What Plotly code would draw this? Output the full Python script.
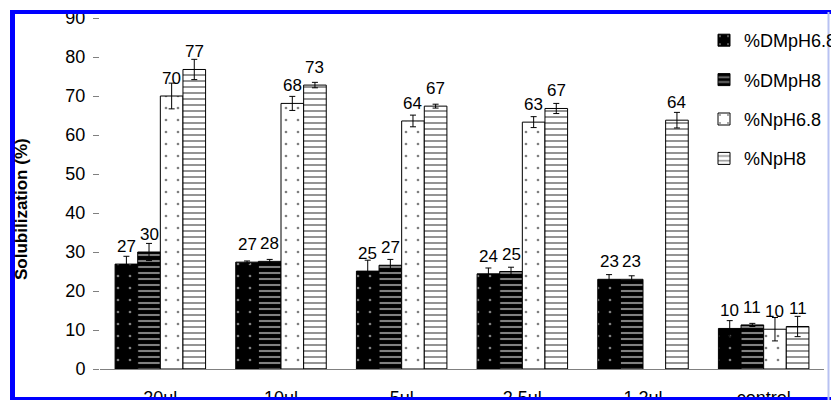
import plotly.graph_objects as go

# Dilution groups on the x axis
categories = ["20ul", "10ul", "5ul", "2.5ul", "1.2ul", "control"]

# Solubilization (%) per series
dm_ph68 = [26.9, 27.4, 25.1, 24.4, 23.0, 10.4]
dm_ph8 = [30.0, 27.6, 26.6, 25.0, 23.0, 11.3]
n_ph68 = [70.0, 68.1, 63.6, 63.3, None, 10.2]
n_ph8 = [76.8, 72.8, 67.4, 66.8, 63.8, 10.9]

# Symmetric error (+/-)
dm_ph68_err = [2.0, 0.3, 2.8, 1.5, 1.2, 2.0]
dm_ph8_err = [2.2, 0.5, 1.5, 1.1, 0.9, 0.4]
n_ph68_err = [3.3, 1.8, 1.5, 1.4, 0.0, 3.0]
n_ph8_err = [2.6, 0.7, 0.5, 1.3, 2.0, 2.6]

series_names = ["%DMpH6.8", "%DMpH8", "%NpH6.8", "%NpH8"]
y_ticks = [0, 10, 20, 30, 40, 50, 60, 70, 80, 90]

FONT = "Arial, Liberation Sans, sans-serif"
BARGAP = 0.25

series = [
    (series_names[0], dm_ph68, dm_ph68_err, dict(shape=".", fgcolor="white", bgcolor="black", size=12, solidity=0.04)),
    (series_names[1], dm_ph8, dm_ph8_err, dict(shape="-", fgcolor="white", bgcolor="black", size=6, solidity=0.35)),
    (series_names[2], n_ph68, n_ph68_err, dict(shape=".", fgcolor="black", bgcolor="white", size=12, solidity=0.04)),
    (series_names[3], n_ph8, n_ph8_err, dict(shape="-", fgcolor="black", bgcolor="white", size=6, solidity=0.28)),
]

fig = go.Figure()
for k, (name, vals, errs, pattern) in enumerate(series):
    fig.add_trace(go.Bar(
        name=name,
        x=categories,
        y=vals,
        legendgroup=name,
        marker=dict(color=pattern["bgcolor"], line=dict(color="black", width=1),
                    pattern=pattern),
        error_y=dict(type="data", array=errs, visible=True, color="black",
                     thickness=1, width=3),
    ))

# Value labels above each bar
bar_w = (1 - BARGAP) / len(series)
annotations = []
for k, (name, vals, errs, pattern) in enumerate(series):
    for i, v in enumerate(vals):
        if v is None:
            continue
        annotations.append(dict(
            x=i + (k - (len(series) - 1) / 2) * bar_w, y=v,
            xref="x", yref="y", text=f"{v:.0f}", showarrow=False,
            yanchor="bottom", yshift=6,
            font=dict(family=FONT, size=17, color="black"),
        ))

# Axis title
annotations.append(dict(
    x=(21 - 100) / 724, y=(369 - 209) / 351, xref="paper", yref="paper",
    text="<b>Solubilization (%)</b>", textangle=-90, showarrow=False,
    xanchor="center", yanchor="middle",
    font=dict(family=FONT, size=17, color="black"),
))

BLUE = "#0000ff"
shapes = [
    # frame around the figure
    dict(type="line", xref="paper", yref="paper", x0=(12.5 - 100) / 724, x1=(12.5 - 100) / 724,
         y0=(369 - 10) / 351, y1=(369 - 400) / 351, line=dict(color=BLUE, width=5), layer="above"),
    dict(type="line", xref="paper", yref="paper", x0=(10 - 100) / 724, x1=(831 - 100) / 724,
         y0=(369 - 12) / 351, y1=(369 - 12) / 351, line=dict(color=BLUE, width=4), layer="above"),
    dict(type="line", xref="paper", yref="paper", x0=(10 - 100) / 724, x1=(831 - 100) / 724,
         y0=(369 - 398.5) / 351, y1=(369 - 398.5) / 351, line=dict(color=BLUE, width=3), layer="above"),
    dict(type="line", xref="paper", yref="paper", x0=(828.5 - 100) / 724, x1=(828.5 - 100) / 724,
         y0=(369 - 12) / 351, y1=(369 - 400) / 351, line=dict(color="#b8c2f2", width=2), layer="above"),
]

fig.update_layout(
    width=831, height=400,
    margin=dict(l=100, r=7, t=18, b=31, autoexpand=False),
    paper_bgcolor="white", plot_bgcolor="white",
    barmode="group", bargap=BARGAP, bargroupgap=0,
    font=dict(family=FONT, color="black"),
    showlegend=True,
    legend=dict(x=(704 - 100) / 724, xanchor="left", y=(369 - 22) / 351, yanchor="top",
                font=dict(family=FONT, size=18, color="black"),
                bgcolor="rgba(0,0,0,0)", traceorder="grouped", tracegroupgap=13),
    xaxis=dict(type="category", showline=True, linecolor="#808080", linewidth=1,
               ticks="", showgrid=False, zeroline=False, ticklabelstandoff=12,
               automargin=False,
               tickfont=dict(family=FONT, size=18, color="black")),
    xaxis2=dict(overlaying="x", anchor="y", range=[-0.5, len(categories) - 0.5],
                tickmode="array", tickvals=[1.5, 3.5, 5.5], ticks="outside", ticklen=6,
                tickcolor="#808080", showticklabels=False, showgrid=False,
                zeroline=False, showline=False, automargin=False),
    yaxis=dict(range=[0, 90], tickmode="array", tickvals=y_ticks, ticks="outside",
               ticklen=6, tickcolor="#808080", showline=False, showgrid=False,
               zeroline=False, ticklabelstandoff=4, automargin=False,
               tickfont=dict(family=FONT, size=18, color="black")),
    annotations=annotations,
    shapes=shapes,
)

fig.write_html("out.html")
